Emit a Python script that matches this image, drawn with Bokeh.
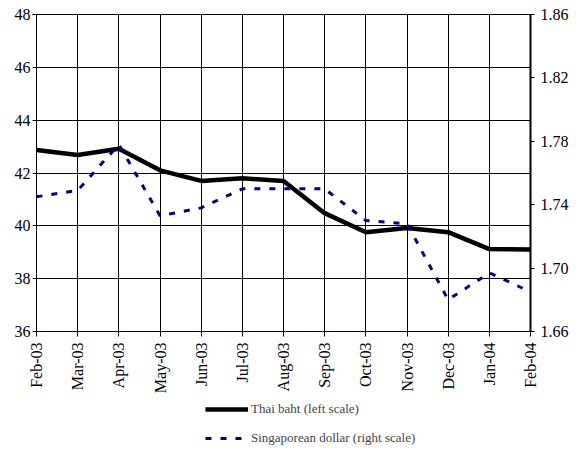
from bokeh.plotting import figure
from bokeh.models import (Range1d, LinearAxis, FixedTicker, PrintfTickFormatter,
                          Legend, LegendItem, ColumnDataSource)
from bokeh.layouts import column
from bokeh.embed import file_html
from bokeh.resources import INLINE
import math

months = ["Feb-03", "Mar-03", "Apr-03", "May-03", "Jun-03", "Jul-03", "Aug-03",
          "Sep-03", "Oct-03", "Nov-03", "Dec-03", "Jan-04", "Feb-04"]
thai_baht = [42.87, 42.68, 42.92, 42.10, 41.70, 41.80, 41.70,
             40.48, 39.76, 39.92, 39.76, 39.12, 39.10]
sgd = [1.745, 1.749, 1.778, 1.733, 1.738, 1.750, 1.750,
       1.750, 1.730, 1.728, 1.680, 1.697, 1.685]
left_ticks = [36, 38, 40, 42, 44, 46, 48]
right_ticks = [1.66, 1.70, 1.74, 1.78, 1.82, 1.86]
series_names = ["Thai baht (left scale)", "Singaporean dollar (right scale)"]

FONT = "Liberation Serif"
THB_STYLE = dict(line_color="black", line_width=4.5)
SGD_STYLE = dict(line_color="#000080", line_width=3, line_dash="6 9")

xs = list(range(len(months)))
src = ColumnDataSource(dict(x=xs, thb=thai_baht, sgd=sgd))

p = figure(width=576, height=397, output_backend="svg", toolbar_location=None,
           x_range=Range1d(0, len(months) - 1), y_range=Range1d(36, 48),
           min_border_left=36, min_border_right=46, min_border_top=14,
           min_border_bottom=66)
p.extra_y_ranges = {"right": Range1d(1.66, 1.86)}
p.outline_line_color = "black"

p.line("x", "thb", source=src, **THB_STYLE)
p.line("x", "sgd", source=src, y_range_name="right", **SGD_STYLE)

xa = p.xaxis[0]
xa.ticker = FixedTicker(ticks=xs)
xa.major_label_overrides = {i: m for i, m in enumerate(months)}
xa.major_label_orientation = math.pi / 2
xa.minor_tick_line_color = None
xa.major_tick_in = 0
xa.major_tick_out = 5
xa.major_label_standoff = 6

ya = p.yaxis[0]
ya.ticker = FixedTicker(ticks=left_ticks)
ya.minor_tick_line_color = None
ya.major_tick_in = 0
ya.major_tick_out = 4
ya.major_label_standoff = 2

ra = LinearAxis(y_range_name="right", ticker=FixedTicker(ticks=right_ticks),
                formatter=PrintfTickFormatter(format="%.2f"))
ra.minor_tick_line_color = None
ra.major_tick_in = 0
ra.major_tick_out = 4
ra.major_label_standoff = 6
ra.axis_line_width = 2
p.add_layout(ra, "right")

for ax in [xa, ya, ra]:
    ax.major_label_text_font = FONT
    ax.major_label_text_font_size = "16px"
    ax.major_label_text_color = "black"
    ax.axis_line_color = "black"
    ax.major_tick_line_color = "black"

p.xgrid.ticker = FixedTicker(ticks=xs)
p.ygrid.ticker = FixedTicker(ticks=left_ticks)
for g in [p.xgrid[0], p.ygrid[0]]:
    g.grid_line_color = "black"
    g.grid_line_width = 1

# legend panel below the chart (its two sample lines lie outside its view)
q = figure(width=576, height=52, output_backend="svg", toolbar_location=None,
           x_range=Range1d(0, 1), y_range=Range1d(0, 1),
           x_axis_type=None, y_axis_type=None,
           min_border_left=0, min_border_right=0, min_border_top=0,
           min_border_bottom=0)
q.grid.visible = False
q.outline_line_color = None
l1 = q.line([5, 6], [5, 6], **THB_STYLE)
l2 = q.line([5, 6], [5, 6], **SGD_STYLE)
legend = Legend(items=[LegendItem(label=series_names[0], renderers=[l1]),
                       LegendItem(label=series_names[1], renderers=[l2])],
                orientation="vertical", location=(169, 2),
                label_text_font=FONT, label_text_font_size="13px",
                glyph_width=43, glyph_height=18, label_height=18,
                label_standoff=3, spacing=11, padding=0, margin=0,
                border_line_color=None, background_fill_alpha=0)
q.add_layout(legend, "center")

open("out.html", "w").write(file_html(column(p, q, spacing=0), INLINE))
